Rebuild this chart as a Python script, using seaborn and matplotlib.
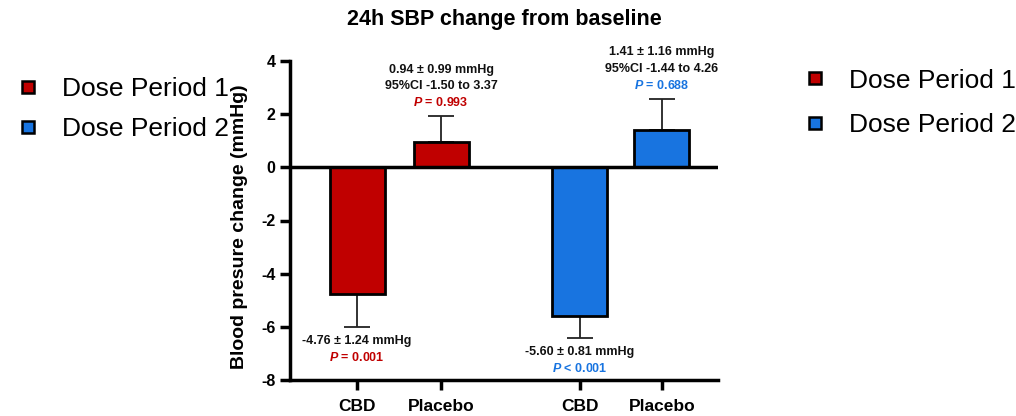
import matplotlib
matplotlib.use("Agg")
import matplotlib.pyplot as plt
from matplotlib.lines import Line2D
import seaborn as sns
import pandas as pd

groups = ["CBD", "Placebo", "CBD", "Placebo"]
periods = ["Dose Period 1", "Dose Period 1", "Dose Period 2", "Dose Period 2"]
means = [-4.76, 0.94, -5.60, 1.41]
sems = [1.24, 0.99, 0.81, 1.16]
mean_texts = ["-4.76 ± 1.24 mmHg", "0.94 ± 0.99 mmHg", "-5.60 ± 0.81 mmHg", "1.41 ± 1.16 mmHg"]
ci_texts = [None, "95%CI -1.50 to 3.37", None, "95%CI -1.44 to 4.26"]
p_texts = ["= 0.001", "= 0.993", "< 0.001", "= 0.688"]

colors = {"Dose Period 1": "#C00000", "Dose Period 2": "#1874E0"}

# bar slots on the x axis (layout only)
x_pos = [0.0, 1.0, 2.65, 3.63]

sns.set_style("ticks")
plt.rcParams["font.family"] = ["Liberation Sans", "DejaVu Sans"]
plt.rcParams["mathtext.fontset"] = "custom"
plt.rcParams["mathtext.it"] = "Liberation Sans:italic:bold"
plt.rcParams["mathtext.rm"] = "Liberation Sans:bold"
plt.rcParams["axes.unicode_minus"] = False
plt.rcParams["text.color"] = "black"

df = pd.DataFrame({"pos": x_pos, "group": groups, "period": periods, "change": means})

fig = plt.figure(figsize=(10.16, 4.16), dpi=100)
ax = fig.add_axes([290 / 1016, 1 - 380 / 416, 428 / 1016, 319 / 416])

sns.barplot(data=df, x="pos", y="change", hue="period", palette=colors,
            native_scale=True, dodge=False, errorbar=None, width=0.67,
            saturation=1, edgecolor="black", linewidth=2, legend=False,
            ax=ax, zorder=3)

lower = [s if m < 0 else 0 for m, s in zip(means, sems)]
upper = [s if m > 0 else 0 for m, s in zip(means, sems)]
ax.errorbar(x_pos, means, yerr=[lower, upper], fmt="none", ecolor="#222222",
            elinewidth=1.3, capsize=9.5, capthick=1.3, zorder=2)

ax.axhline(0, color="black", lw=2.5, zorder=4)
ax.set_ylim(-8, 4)
ax.set_xlim(-0.8, 4.3)
ax.set_yticks([-8, -6, -4, -2, 0, 2, 4])
ax.set_xticks(x_pos)
ax.set_xticklabels(groups, fontsize=12.5, fontweight="bold")
for lab in ax.get_yticklabels():
    lab.set_fontweight("bold")
    lab.set_fontsize(11.5)
ax.tick_params(axis="both", width=2.5, length=7, colors="black")
ax.tick_params(axis="x", pad=7)
for side in ["top", "right"]:
    ax.spines[side].set_visible(False)
for side in ["left", "bottom"]:
    ax.spines[side].set_linewidth(2.5)
    ax.spines[side].set_color("black")
ax.set_xlabel("")
ax.set_ylabel("Blood presure change (mmHg)", fontsize=14, fontweight="bold", color="black")
ax.yaxis.set_label_coords(-42 / 428, 0.48)

# annotations
fs = 9
for i, (m, s) in enumerate(zip(means, sems)):
    c = colors[periods[i]]
    tip = m - s if m < 0 else m + s
    if m < 0:
        ax.text(x_pos[i], tip - 0.52, mean_texts[i], ha="center", va="center",
                fontsize=fs, fontweight="bold", color="#111111")
        ax.text(x_pos[i], tip - 1.15, "$P$ " + p_texts[i], ha="center", va="center",
                fontsize=fs, fontweight="bold", color=c)
    else:
        ax.text(x_pos[i], tip + 0.5, "$P$ " + p_texts[i], ha="center", va="center",
                fontsize=fs, fontweight="bold", color=c, clip_on=False)
        ax.text(x_pos[i], tip + 1.12, ci_texts[i], ha="center", va="center",
                fontsize=fs, fontweight="bold", color="#111111", clip_on=False)
        ax.text(x_pos[i], tip + 1.75, mean_texts[i], ha="center", va="center",
                fontsize=fs, fontweight="bold", color="#111111", clip_on=False)

fig.suptitle("24h SBP change from baseline", x=504 / 1016, y=1 - 19 / 416,
             va="center", fontsize=15.5, fontweight="bold")

handles = [Line2D([], [], marker="s", ls="none", markersize=9,
                  markerfacecolor=colors[p], markeredgecolor="black",
                  markeredgewidth=1.8) for p in colors]
fig.legend(handles, list(colors), loc="center left", bbox_to_anchor=(0.0, 1 - 109 / 416),
           frameon=False, fontsize=19, labelspacing=0.62, handletextpad=0.9,
           handlelength=0.8, borderaxespad=0.25)
fig.legend(handles, list(colors), loc="center left", bbox_to_anchor=(0.775, 1 - 103 / 416),
           frameon=False, fontsize=19, labelspacing=0.78, handletextpad=0.9,
           handlelength=0.8, borderaxespad=0.25)

fig.savefig("out.png", dpi=100)
